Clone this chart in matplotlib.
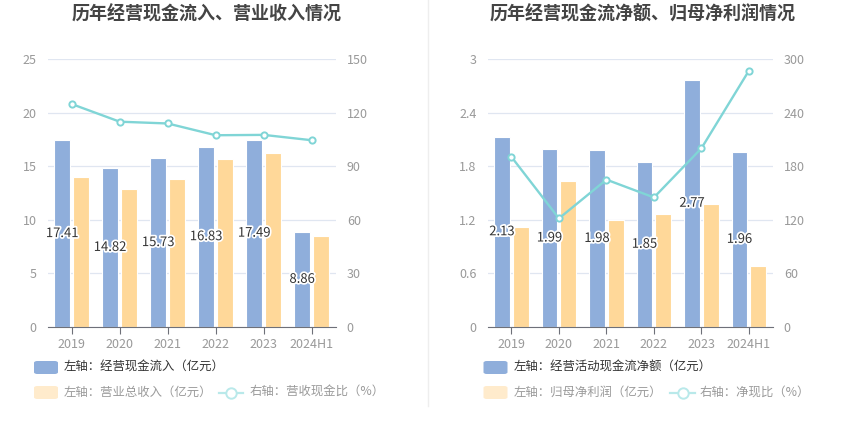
import matplotlib
matplotlib.use("Agg")
import matplotlib.pyplot as plt
import matplotlib.patheffects as pe
from matplotlib.patches import FancyBboxPatch
from matplotlib.lines import Line2D

plt.rcParams['font.family'] = ['Noto Sans CJK SC', 'DejaVu Sans']

years = ["2019", "2020", "2021", "2022", "2023", "2024H1"]

# left panel
cash_inflow = [17.41, 14.82, 15.73, 16.83, 17.49, 8.86]
revenue = [14.0, 12.9, 13.8, 15.7, 16.28, 8.44]
cash_rev_ratio = [124.9, 115.0, 114.0, 107.4, 107.6, 104.6]

# right panel
op_cash_net = [2.13, 1.99, 1.98, 1.85, 2.77, 1.96]
net_profit = [1.12, 1.64, 1.20, 1.27, 1.38, 0.683]
net_cash_ratio = [190.5, 121.5, 165.0, 145.0, 200.2, 287.3]

BLUE = "#8FAEDB"
ORANGE = "#FFD899"
TEAL = "#80D5D6"
GRID = "#E0E6F1"
TICK = "#999999"

W, H = 850, 437
fig = plt.figure(figsize=(W / 100, H / 100), dpi=100)


def px_axes(x0, x1, ytop, ybot):
    return fig.add_axes([x0 / W, 1 - ybot / H, (x1 - x0) / W, (ybot - ytop) / H])


def draw_panel(ax, left_vals, right_bars, line_vals, lmax, lticks, rmax, rticks):
    x = range(len(years))
    bw = 0.333
    off = 0.198
    ax.bar([i - off for i in x], left_vals, width=bw, color=BLUE, edgecolor="white",
           linewidth=0.8, zorder=2)
    ax.bar([i + off for i in x], right_bars, width=bw, color=ORANGE, edgecolor="white",
           linewidth=0.8, zorder=2)
    for i, v in enumerate(left_vals):
        ax.text(i - off, v / 2, "%.2f" % v, ha="center", va="center", fontsize=9.4,
                color="#333333", zorder=5,
                path_effects=[pe.withStroke(linewidth=2.5, foreground="white")])
    ax.set_xlim(-0.5, len(years) - 0.5)
    ax.set_ylim(0, lmax)
    ax.set_yticks(lticks)
    ax.set_yticklabels([("%g" % t) for t in lticks])
    ax.set_xticks(list(x))
    ax.set_xticklabels(years)
    ax.grid(axis="y", color=GRID, linewidth=0.9, zorder=0)
    ax.set_axisbelow(True)
    for s in ["top", "left", "right"]:
        ax.spines[s].set_visible(False)
    ax.spines["bottom"].set_color("#6E7079")
    ax.tick_params(axis="y", length=0, pad=8, labelsize=9, labelcolor=TICK)
    ax.tick_params(axis="x", length=5, color="#6E7079", pad=3, labelsize=9, labelcolor=TICK)

    ax2 = ax.twinx()
    ax2.plot(list(x), line_vals, color=TEAL, linewidth=1.7, marker="o", markersize=4.5,
             markerfacecolor="white", markeredgecolor=TEAL, markeredgewidth=1.4, zorder=4)
    ax2.set_ylim(0, rmax)
    ax2.set_yticks(rticks)
    for s in ["top", "left", "right", "bottom"]:
        ax2.spines[s].set_visible(False)
    ax2.tick_params(axis="y", length=0, pad=8, labelsize=9, labelcolor=TICK)
    return ax2


axL = px_axes(47.7, 335.7, 59.3, 326.7)
draw_panel(axL, cash_inflow, revenue, cash_rev_ratio, 25, [0, 5, 10, 15, 20, 25],
           150, [0, 30, 60, 90, 120, 150])

axR = px_axes(487.7, 772.7, 59.3, 326.7)
draw_panel(axR, op_cash_net, net_profit, net_cash_ratio, 3, [0, 0.6, 1.2, 1.8, 2.4, 3],
           300, [0, 60, 120, 180, 240, 300])

# titles
fig.text(206.7 / W, 1 - 14 / H, "历年经营现金流入、营业收入情况", ha="center", va="center",
         fontsize=13, fontweight="bold", color="#444444")
fig.text(643 / W, 1 - 14 / H, "历年经营现金流净额、归母净利润情况", ha="center", va="center",
         fontsize=13, fontweight="bold", color="#444444")

# divider
fig.add_artist(Line2D([427.5 / W, 427.5 / W], [1 - 0 / H, 1 - 406 / H], color="#EEEEEE",
                      linewidth=1))


def swatch(x0, yc, color):
    w, h = 24, 13
    fig.add_artist(FancyBboxPatch(((x0) / W, 1 - (yc + h / 2) / H), w / W, h / H,
                                  boxstyle="round,pad=0,rounding_size=0.004",
                                  facecolor=color, edgecolor="none",
                                  transform=fig.transFigure))


def line_key(x0, x1, yc, color):
    yy = 1 - yc / H
    fig.add_artist(Line2D([x0 / W, x1 / W], [yy, yy], color=color, linewidth=1.6))
    fig.add_artist(Line2D([(x0 + x1) / 2 / W], [yy], color=color, marker="o", markersize=7.5,
                          markerfacecolor="white", markeredgewidth=1.4))


def legend_text(x0, yc, s, color):
    fig.text(x0 / W, 1 - yc / H, s, ha="left", va="center", fontsize=8.9, color=color)


# left legend
swatch(34, 367.5, BLUE)
legend_text(63.3, 367.5, "左轴：经营现金流入（亿元）", "#333333")
swatch(34, 392.5, "#FFEBCC")
legend_text(63.3, 392.5, "左轴：营业总收入（亿元）", "#9A9A9A")
line_key(219, 243, 392.5, "#B9E9EA")
legend_text(249.3, 392.5, "右轴：营收现金比（%）", "#9A9A9A")

# right legend
swatch(483.5, 367.5, BLUE)
legend_text(513.4, 367.5, "左轴：经营活动现金流净额（亿元）", "#333333")
swatch(483.5, 392.5, "#FFEBCC")
legend_text(513.4, 392.5, "左轴：归母净利润（亿元）", "#9A9A9A")
line_key(670.4, 695, 392.5, "#B9E9EA")
legend_text(699.7, 392.5, "右轴：净现比（%）", "#9A9A9A")

fig.savefig("out.png", dpi=100, facecolor="white")
